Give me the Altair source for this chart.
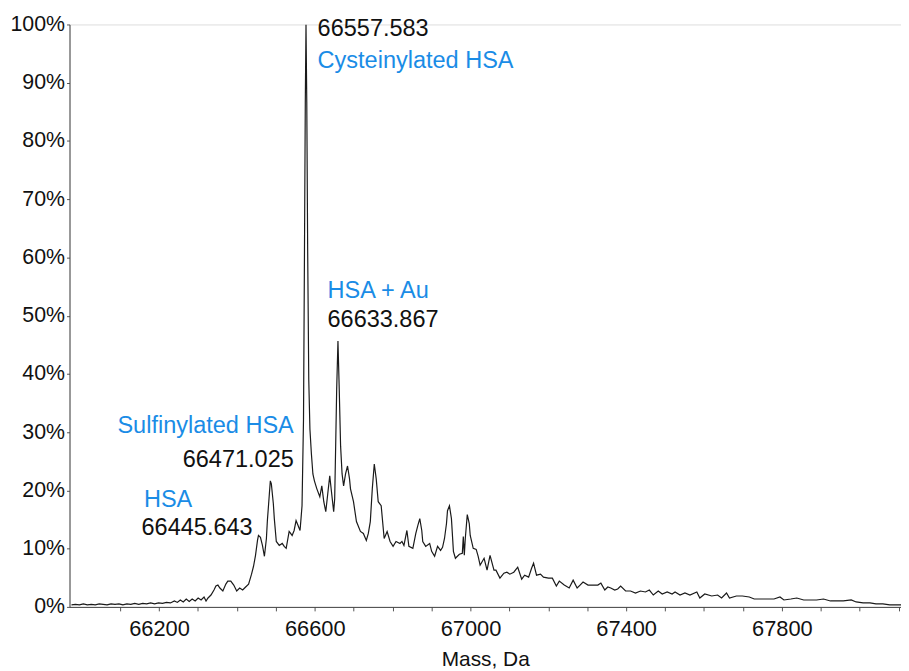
import altair as alt
import pandas as pd

# Deconvoluted mass spectrum (mass in Da, relative intensity in %)
mass = [
    65975.0, 65985.2, 65995.3, 66005.5, 66015.7, 66025.8, 66036.0, 66046.2, 66056.3, 66066.5,
    66076.7, 66086.8, 66097.0, 66107.2, 66117.4, 66127.5, 66137.7, 66147.9, 66158.0, 66168.2,
    66178.4, 66188.5, 66198.7, 66208.9, 66219.0, 66229.2, 66239.4, 66247.0, 66254.6, 66262.2,
    66269.9, 66277.5, 66285.1, 66292.8, 66300.4, 66308.0, 66315.6, 66320.7, 66325.8, 66333.4,
    66341.1, 66346.1, 66351.2, 66356.3, 66363.9, 66371.6, 66376.6, 66384.3, 66391.9, 66399.5,
    66407.1, 66414.8, 66422.4, 66430.0, 66437.6, 66442.7, 66447.8, 66452.9, 66455.4, 66460.5,
    66465.6, 66470.7, 66475.8, 66478.3, 66483.4, 66485.9, 66488.5, 66493.6, 66496.1, 66501.2,
    66508.8, 66516.4, 66521.5, 66526.6, 66534.2, 66541.9, 66547.0, 66552.0, 66557.1, 66562.2,
    66564.7, 66567.3, 66571.1, 66573.6, 66575.7, 66577.5, 66579.5, 66581.8, 66584.6, 66587.6,
    66591.4, 66595.2, 66599.1, 66605.4, 66613.0, 66618.1, 66623.2, 66628.3, 66633.4, 66638.5,
    66643.5, 66648.6, 66651.2, 66653.7, 66656.3, 66659.6, 66662.6, 66666.4, 66670.2, 66674.1,
    66679.1, 66684.2, 66689.3, 66691.8, 66699.5, 66707.1, 66717.3, 66724.9, 66732.5, 66737.6,
    66742.7, 66747.8, 66752.9, 66757.9, 66763.0, 66770.6, 66778.3, 66785.9, 66793.5, 66801.2,
    66808.8, 66818.9, 66824.0, 66829.1, 66836.7, 66841.8, 66852.0, 66859.6, 66864.7, 66869.8,
    66874.9, 66877.4, 66885.0, 66895.2, 66900.3, 66907.9, 66915.5, 66923.2, 66928.3, 66933.3,
    66938.4, 66941.0, 66946.0, 66951.1, 66956.2, 66961.3, 66971.5, 66979.1, 66981.6, 66984.2,
    66986.7, 66991.8, 66996.9, 66999.4, 67007.1, 67014.7, 67019.8, 67024.8, 67035.0, 67042.6,
    67050.3, 67060.4, 67065.5, 67075.7, 67085.9, 67093.5, 67101.1, 67111.3, 67121.4, 67131.6,
    67139.2, 67149.4, 67157.0, 67162.1, 67169.7, 67179.9, 67187.5, 67200.2, 67210.4, 67220.6,
    67228.2, 67240.9, 67253.6, 67263.8, 67274.0, 67281.6, 67289.2, 67301.9, 67314.6, 67327.3,
    67335.0, 67345.1, 67352.8, 67360.4, 67370.6, 67378.2, 67385.8, 67398.5, 67411.2, 67423.9,
    67436.7, 67449.4, 67459.5, 67469.7, 67482.4, 67492.6, 67505.3, 67518.0, 67525.6, 67538.3,
    67551.0, 67563.8, 67581.5, 67589.2, 67601.9, 67619.7, 67634.9, 67645.1, 67657.8, 67665.4,
    67683.2, 67698.5, 67716.3, 67729.0, 67746.8, 67762.0, 67779.8, 67795.1, 67805.2, 67823.0,
    67838.3, 67856.1, 67873.9, 67889.1, 67906.9, 67924.7, 67940.0, 67957.8, 67978.1, 67990.8,
    68008.6, 68026.4, 68041.7, 68059.4, 68077.2, 68092.5, 68106.0,
]
intensity = [
    0.34, 0.43, 0.34, 0.51, 0.34, 0.43, 0.34, 0.51, 0.43, 0.34,
    0.51, 0.43, 0.51, 0.34, 0.51, 0.43, 0.60, 0.43, 0.60, 0.51,
    0.68, 0.51, 0.68, 0.60, 0.77, 0.68, 1.02, 0.77, 1.19, 0.85,
    1.36, 0.94, 1.36, 1.02, 1.53, 1.19, 1.70, 1.02, 1.53, 2.04,
    2.90, 3.58, 3.75, 3.24, 2.73, 3.92, 4.43, 4.43, 3.75, 2.73,
    3.24, 2.90, 3.41, 3.92, 5.62, 6.98, 8.86, 11.41, 12.27, 11.93,
    10.56, 8.69, 11.75, 14.82, 19.42, 21.64, 21.12, 17.72, 15.16, 11.24,
    10.56, 10.90, 10.39, 10.05, 12.95, 12.27, 13.12, 14.82, 13.97, 13.12,
    15.16, 17.38, 32.20, 61.16, 86.71, 100.0, 86.71, 61.16, 39.01, 30.49,
    26.24, 22.83, 21.64, 20.27, 18.91, 20.78, 18.06, 16.35, 19.42, 22.49,
    19.42, 16.35, 18.57, 27.60, 37.31, 45.66, 38.16, 27.60, 22.83, 20.78,
    22.83, 24.19, 21.98, 20.27, 18.06, 14.65, 12.95, 12.61, 11.41, 12.61,
    14.65, 20.27, 24.53, 21.98, 18.06, 17.38, 11.75, 12.95, 11.24, 10.39,
    11.24, 10.90, 11.24, 10.56, 13.12, 10.39, 10.05, 12.61, 13.97, 15.16,
    13.12, 11.24, 10.39, 10.90, 9.54, 8.69, 10.39, 9.71, 10.22, 11.75,
    14.31, 16.52, 17.38, 15.16, 9.54, 8.35, 9.03, 9.20, 12.10, 8.86,
    11.75, 15.84, 14.31, 12.27, 10.05, 9.88, 8.69, 7.16, 8.35, 6.30,
    8.86, 6.30, 6.30, 4.94, 5.79, 5.96, 5.62, 5.96, 6.81, 4.77,
    5.45, 5.11, 6.64, 7.50, 5.45, 5.62, 5.11, 4.94, 4.94, 3.58,
    4.43, 3.75, 3.24, 4.60, 3.24, 3.75, 4.26, 3.75, 3.75, 3.75,
    4.09, 2.90, 3.41, 3.24, 2.90, 3.07, 3.58, 2.73, 2.73, 2.39,
    2.73, 2.56, 2.90, 2.04, 2.73, 2.21, 2.56, 2.21, 2.56, 2.04,
    2.39, 2.04, 2.56, 1.53, 2.21, 1.87, 2.04, 1.53, 2.39, 1.53,
    1.87, 1.87, 1.70, 1.36, 1.36, 1.36, 1.36, 1.70, 1.19, 1.36,
    1.53, 1.19, 1.19, 1.19, 1.36, 1.02, 1.02, 1.02, 1.19, 0.85,
    0.68, 0.68, 0.51, 0.51, 0.34, 0.34, 0.34,
]

# Peak annotations
ann_text = ["66557.583", "Cysteinylated HSA", "HSA + Au", "66633.867",
            "Sulfinylated HSA", "66471.025", "HSA", "66445.643"]
ann_mass = [66607.3, 66607.3, 66632.7, 66632.7, 66546.1, 66546.1, 66161.2, 66155.0]
ann_pct = [99.2, 93.8, 54.3, 49.2, 31.0, 25.2, 18.4, 13.5]
ann_kind = ["value", "name", "name", "value", "name", "value", "name", "value"]
ann_side = ["left", "left", "left", "left", "right", "right", "left", "left"]

x_ticks = list(range(66100, 68101, 100))
y_ticks = list(range(0, 101, 5))

spec = pd.DataFrame({"mass": mass, "intensity": intensity})
ann = pd.DataFrame({"text": ann_text, "mass": ann_mass, "pct": ann_pct,
                    "kind": ann_kind, "side": ann_side})

FONT = "Liberation Sans"

x_scale = alt.Scale(domain=[65970, 68106], nice=False, zero=False)
y_scale = alt.Scale(domain=[0, 100], nice=False)

line = alt.Chart(spec).mark_line(color="#1a1a1a", strokeWidth=1.2, clip=True).encode(
    x=alt.X("mass:Q", scale=x_scale,
            axis=alt.Axis(values=x_ticks, format="d",
                          labelExpr="(datum.value - 66200) % 400 == 0 ? datum.label : ''",
                          labelOverlap=False, labelFontSize=22, labelFont=FONT,
                          labelColor="#111", tickSize=4, tickColor="#555",
                          domainColor="#444", labelPadding=8, grid=False,
                          title="Mass, Da", titleFont=FONT, titleFontSize=21,
                          titleFontWeight="normal", titleColor="#111",
                          titlePadding=9)),
    y=alt.Y("intensity:Q", scale=y_scale,
            axis=alt.Axis(values=y_ticks,
                          labelExpr="datum.value % 10 == 0 ? datum.value + '%' : ''",
                          labelOverlap=False, labelFontSize=21.5, labelFont=FONT,
                          labelColor="#111", tickSize=3, tickColor="#555",
                          domainColor="#444", labelPadding=2, grid=False,
                          title=None)),
)

color_scale = alt.Scale(domain=["value", "name"], range=["#111111", "#1a8ce6"])

text_left = alt.Chart(ann).transform_filter(alt.datum.side == "left").mark_text(
    align="left", baseline="middle", font=FONT, fontSize=23.7
).encode(
    x=alt.X("mass:Q", scale=x_scale),
    y=alt.Y("pct:Q", scale=y_scale),
    text="text:N",
    color=alt.Color("kind:N", scale=color_scale, legend=None),
)

text_right = alt.Chart(ann).transform_filter(alt.datum.side == "right").mark_text(
    align="right", baseline="middle", font=FONT, fontSize=23.7
).encode(
    x=alt.X("mass:Q", scale=x_scale),
    y=alt.Y("pct:Q", scale=y_scale),
    text="text:N",
    color=alt.Color("kind:N", scale=color_scale, legend=None),
)

chart = alt.layer(line, text_left, text_right).properties(
    width=838,
    height=587,
    padding={"left": 62, "top": 14, "right": 0, "bottom": 62},
    autosize=alt.AutoSizeParams(type="none"),
).configure_view(stroke=None).configure(background="white")

chart.save("out.html", embed_options={"renderer": "svg", "actions": False})
